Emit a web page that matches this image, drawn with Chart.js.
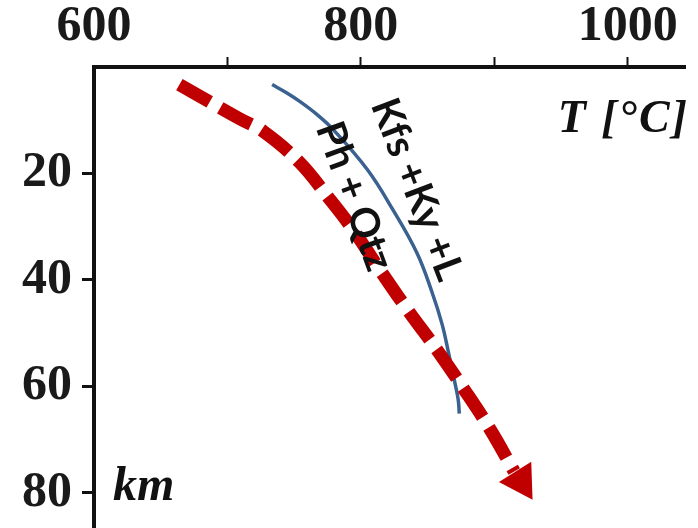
<!DOCTYPE html>
<html><head><meta charset="utf-8">
<script src="https://cdn.jsdelivr.net/npm/chart.js@4/dist/chart.umd.min.js"></script>
<style>html,body{margin:0;padding:0;background:#fff}#wrap{width:698px;height:528px;position:relative}</style>
</head><body><div id="wrap"><canvas id="c"></canvas></div>
<script>
// P-T path (red dashed arrow): temperature [°C] and depth [km]
const pathT     = [664, 687, 709, 727, 754, 775, 794, 814, 835, 857, 877, 897, 915];
const pathDepth = [3.3, 6.6, 9.7, 12.1, 17.9, 24.3, 30.5, 38.0, 45.6, 53.1, 60.4, 68.1, 76.0];
// arrow head at the end of the path
const arrowT     = [920];
const arrowDepth = [77.8];
// reaction curve (blue): Kfs + Ky + L / Ph + Qtz
const curveT     = [733.5, 744, 755, 767, 779.5, 805, 824, 842, 853.5, 861, 866, 870.5, 873, 873.8];
const curveDepth = [3.3, 4.8, 6.6, 8.9, 11.8, 19.3, 26.8, 34.9, 42.4, 48.4, 54.0, 59.3, 62.5, 65.1];
// axes
const xTickValues = [600, 700, 800, 900, 1000];
const xTickLabels = ['600', '', '800', '', '1000'];
const yTickValues = [20, 40, 60, 80];
const yTickLabels = ['20', '40', '60', '80'];
const xTitle = 'T [°C]';
const yTitle = 'km';
const curveTexts = ['Kfs +Ky +L', 'Ph + Qtz'];

const toXY = (xs, ys) => xs.map((v, i) => ({x: v, y: ys[i]}));

const labelAnchors = [
  {T: 842, depth: 23.0, angle: 69},
  {T: 795, depth: 24.3, angle: 70}
];

const textPlugin = {
  id: 'texts',
  afterDatasetsDraw(chart) {
    const {ctx, chartArea, scales} = chart;
    const x = scales.x, y = scales.y;
    ctx.save();
    ctx.fillStyle = '#111';
    curveTexts.forEach((t, i) => {
      const a = labelAnchors[i];
      ctx.save();
      ctx.translate(x.getPixelForValue(a.T), y.getPixelForValue(a.depth));
      ctx.rotate(a.angle * Math.PI / 180);
      ctx.font = 'bold 40px Lato';
      ctx.textAlign = 'center';
      ctx.textBaseline = 'middle';
      ctx.fillText(t, 0, 0);
      ctx.restore();
    });
    ctx.font = 'italic bold 46px "Liberation Serif"';
    ctx.textAlign = 'right';
    ctx.textBaseline = 'alphabetic';
    if ('letterSpacing' in ctx) ctx.letterSpacing = '2px';
    ctx.fillText(xTitle, chartArea.right + 4, chartArea.top + 65);
    if ('letterSpacing' in ctx) ctx.letterSpacing = '0px';
    ctx.font = 'italic bold 48px "Liberation Serif"';
    ctx.textAlign = 'left';
    ctx.fillText(yTitle, chartArea.left + 19, chartArea.top + 433);
    ctx.restore();
  }
};

const tickFont = {family: '"Liberation Serif", serif', size: 50, weight: 'bold'};

new Chart(document.getElementById('c'), {
  type: 'line',
  data: {
    datasets: [
      {
        data: toXY(pathT, pathDepth),
        borderColor: '#C00000',
        borderWidth: 13,
        borderDash: [35, 12],
        borderCapStyle: 'butt',
        pointRadius: 0,
        fill: false,
        tension: 0.4,
        order: 0
      },
      {
        type: 'scatter',
        data: toXY(arrowT, arrowDepth),
        pointStyle: 'triangle',
        pointRadius: 22,
        pointRotation: 148,
        backgroundColor: '#C00000',
        borderColor: '#C00000',
        borderWidth: 0,
        order: 1
      },
      {
        data: toXY(curveT, curveDepth),
        borderColor: '#3A6190',
        borderWidth: 3.5,
        pointRadius: 0,
        fill: false,
        tension: 0.4,
        order: 2
      }
    ]
  },
  options: {
    responsive: true,
    maintainAspectRatio: false,
    animation: false,
    events: [],
    layout: {padding: {top: 0, left: 0, right: 13, bottom: 0}, autoPadding: false},
    plugins: {legend: {display: false}, tooltip: {enabled: false}},
    scales: {
      x: {
        type: 'linear',
        position: 'top',
        min: 600,
        max: 1043,
        afterBuildTicks: s => { s.ticks = xTickValues.map(v => ({value: v})); },
        afterFit: s => { s.height = 67; s.paddingLeft = 0; s.paddingRight = 0; },
        ticks: {
          font: tickFont,
          color: '#1a1a1a',
          padding: 0,
          maxRotation: 0,
          autoSkip: false,
          callback: (v) => xTickLabels[xTickValues.indexOf(v)]
        },
        grid: {
          drawOnChartArea: false,
          drawTicks: true,
          tickLength: 10,
          tickWidth: 2,
          tickColor: c => (c.tick && c.tick.value === 600) ? 'rgba(0,0,0,0)' : '#111'
        },
        border: {display: true, width: 4, color: '#111'}
      },
      y: {
        type: 'linear',
        position: 'left',
        reverse: true,
        min: 0,
        max: 86.6,
        afterBuildTicks: s => { s.ticks = yTickValues.map(v => ({value: v})); },
        afterFit: s => { s.width = 94; s.paddingTop = 0; s.paddingBottom = 0; },
        ticks: {
          font: tickFont,
          color: '#1a1a1a',
          padding: 10,
          autoSkip: false,
          callback: (v) => yTickLabels[yTickValues.indexOf(v)]
        },
        grid: {
          drawOnChartArea: false,
          drawTicks: true,
          tickLength: 12,
          tickWidth: 3,
          tickColor: '#111'
        },
        border: {display: true, width: 4, color: '#111'}
      }
    }
  },
  plugins: [textPlugin]
});
</script>
</body></html>
